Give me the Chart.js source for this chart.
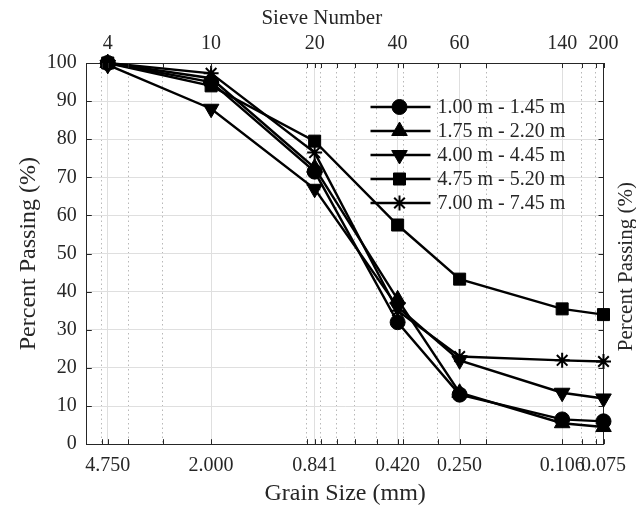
<!DOCTYPE html>
<html>
<head>
<meta charset="utf-8">
<script src="https://cdn.jsdelivr.net/npm/chart.js@4/dist/chart.umd.min.js"></script>
<style>
html, body { margin: 0; padding: 0; background: #fff; overflow: hidden; }
</style>
</head>
<body>
<canvas id="chart" width="636" height="508"></canvas>
<script>
// grain sizes (mm) of the sieves, with their labels
const grainSizes = [4.75, 2.0, 0.841, 0.42, 0.25, 0.106, 0.075];
const sizeLabels = ['4.750', '2.000', '0.841', '0.420', '0.250', '0.106', '0.075'];
const sieveNumbers = ['4', '10', '20', '40', '60', '140', '200'];
const minorSizes = [5, 4, 3, 0.9, 0.8, 0.7, 0.6, 0.5, 0.4, 0.3, 0.2, 0.09, 0.08];
const yTicks = [0, 10, 20, 30, 40, 50, 60, 70, 80, 90, 100];

const depthLabels = ['1.00 m - 1.45 m', '1.75 m - 2.20 m', '4.00 m - 4.45 m', '4.75 m - 5.20 m', '7.00 m - 7.45 m'];
const passing1 = [100, 95, 71.5, 32, 13, 6.5, 6];
const passing2 = [100, 96, 72.5, 38, 13.5, 5.5, 4.5];
const passing3 = [99.5, 88, 67, 36, 22, 13.5, 12];
const passing4 = [100, 94, 79.5, 57.5, 43.3, 35.5, 34];
const passing5 = [100, 97.3, 76.5, 35, 23, 22, 21.7];

const markers = [
	{ style: 'circle', radius: 7.5, rot: 0, bw: 1 },
	{ style: 'triangle', radius: 9, rot: 0, bw: 1 },
	{ style: 'triangle', radius: 9, rot: 180, bw: 1 },
	{ style: 'rect', radius: 8.5, rot: 0, bw: 1 },
	{ style: 'star', radius: 7.5, rot: 0, bw: 2 }
];

const ink = '#262626';
const serif = "'Liberation Serif', 'DejaVu Serif', serif";
const xMin = 0.075, xMax = 5.66;

Chart.defaults.font.family = serif;
Chart.defaults.color = ink;

function toPoints(values) {
	return grainSizes.map((s, i) => ({ x: s, y: values[i] }));
}

const allSeries = [passing1, passing2, passing3, passing4, passing5];
const datasets = allSeries.map((vals, i) => ({
	label: depthLabels[i],
	data: toPoints(vals),
	borderColor: '#000',
	backgroundColor: '#000',
	borderWidth: 2.4,
	pointStyle: markers[i].style,
	pointRadius: markers[i].radius,
	pointHoverRadius: markers[i].radius,
	pointRotation: markers[i].rot,
	pointBorderWidth: markers[i].bw,
	pointBackgroundColor: '#000',
	pointBorderColor: '#000',
	clip: false,
	tension: 0
}));

// ticks pointing into the plot, like the original
const innerTicks = {
	id: 'innerTicks',
	afterDraw(chart) {
		const { ctx, chartArea: a, scales } = chart;
		ctx.save();
		ctx.strokeStyle = ink;
		ctx.lineWidth = 1;
		ctx.beginPath();
		grainSizes.concat(minorSizes).forEach(v => {
			const x = Math.round(scales.x.getPixelForValue(v)) + 0.5;
			ctx.moveTo(x, a.bottom); ctx.lineTo(x, a.bottom - 5);
			ctx.moveTo(x, a.top); ctx.lineTo(x, a.top + 5);
		});
		yTicks.forEach(v => {
			const y = Math.round(scales.y.getPixelForValue(v)) + 0.5;
			ctx.moveTo(a.left, y); ctx.lineTo(a.left + 5, y);
			ctx.moveTo(a.right, y); ctx.lineTo(a.right - 5, y);
		});
		ctx.stroke();
		ctx.restore();
	}
};

// legend with line + marker, inside the axes
const lineLegend = {
	id: 'lineLegend',
	afterDraw(chart) {
		const { ctx, chartArea: a } = chart;
		const x0 = a.right - 233;
		ctx.save();
		chart.data.datasets.forEach((ds, i) => {
			const y = a.top + 44 + i * 24;
			ctx.strokeStyle = '#000';
			ctx.fillStyle = '#000';
			ctx.lineWidth = ds.borderWidth;
			ctx.beginPath();
			ctx.moveTo(x0, y); ctx.lineTo(x0 + 60, y);
			ctx.stroke();
			ctx.lineWidth = ds.pointBorderWidth;
			Chart.helpers.drawPoint(ctx, {
				pointStyle: ds.pointStyle,
				rotation: ds.pointRotation,
				radius: ds.pointRadius,
				borderWidth: ds.pointBorderWidth
			}, x0 + 29, y);
			ctx.fillStyle = ink;
			ctx.font = '20px ' + serif;
			ctx.textBaseline = 'middle';
			ctx.fillText(ds.label, x0 + 67, y + 1);
		});
		ctx.restore();
	}
};

// extra titles: top one sits left of centre, right one runs off the page
const extraTitles = {
	id: 'extraTitles',
	afterDraw(chart) {
		const { ctx, chartArea: a } = chart;
		ctx.save();
		ctx.fillStyle = ink;
		ctx.font = '21px ' + serif;
		ctx.textAlign = 'center';
		ctx.textBaseline = 'middle';
		ctx.fillText('Sieve Number', a.left + 235, 18);
		ctx.translate(a.right + 28, a.bottom - 93);
		ctx.rotate(-Math.PI / 2);
		ctx.textAlign = 'left';
		ctx.textBaseline = 'alphabetic';
		ctx.fillText('Percent Passing (%)', 0, 0);
		ctx.restore();
	}
};

const logX = (extra) => Object.assign({
	type: 'logarithmic',
	reverse: true,
	min: xMin,
	max: xMax,
	bounds: 'data'
}, extra);

const config = {
	type: 'line',
	data: { datasets: datasets },
	options: {
		responsive: false,
		animation: false,
		devicePixelRatio: 1,
		layout: { padding: { left: 12, right: 27, top: 25, bottom: 0 } },
		plugins: {
			legend: { display: false },
			tooltip: { enabled: false }
		},
		scales: {
			x: logX({
				position: 'bottom',
				afterBuildTicks: s => { s.ticks = grainSizes.map(v => ({ value: v })); },
				ticks: {
					autoSkip: false,
					maxRotation: 0,
					padding: 10,
					font: { size: 20 },
					callback: (v, i) => sizeLabels[i]
				},
				grid: { color: '#dfdfdf', lineWidth: 1, drawTicks: false },
				border: { color: ink, width: 1 },
				title: { display: true, text: 'Grain Size (mm)', font: { size: 24 }, padding: { top: -9, bottom: 0 } }
			}),
			xMinor: logX({
				position: 'bottom',
				afterBuildTicks: s => { s.ticks = minorSizes.map(v => ({ value: v })); },
				ticks: { display: false },
				grid: { color: '#b8b8b8', lineWidth: 1, drawTicks: false },
				border: { display: false, dash: [1.5, 3] }
			}),
			x2: logX({
				position: 'top',
				afterBuildTicks: s => { s.ticks = grainSizes.map(v => ({ value: v })); },
				ticks: {
					autoSkip: false,
					maxRotation: 0,
					padding: 7,
					font: { size: 20 },
					callback: (v, i) => sieveNumbers[i]
				},
				grid: { drawOnChartArea: false, drawTicks: false },
				border: { color: ink, width: 1 }
			}),
			y: {
				type: 'linear',
				position: 'left',
				min: 0,
				max: 100,
				afterBuildTicks: s => { s.ticks = yTicks.map(v => ({ value: v })); },
				ticks: { padding: 10, font: { size: 20 } },
				grid: { color: '#dfdfdf', lineWidth: 1, drawTicks: false },
				border: { color: ink, width: 1 },
				title: { display: true, text: 'Percent Passing (%)', font: { size: 24 }, padding: { top: 2, bottom: -6 } }
			},
			y2: {
				type: 'linear',
				position: 'right',
				min: 0,
				max: 100,
				ticks: { display: false },
				grid: { drawOnChartArea: false, drawTicks: false },
				border: { color: ink, width: 1 }
			}
		}
	},
	plugins: [innerTicks, lineLegend, extraTitles]
};

window.addEventListener('load', () => {
	const ctx = document.getElementById('chart').getContext('2d');
	const myChart = new Chart(ctx, config);
	console.log(JSON.stringify(myChart.chartArea));
});
</script>
</body>
</html>
